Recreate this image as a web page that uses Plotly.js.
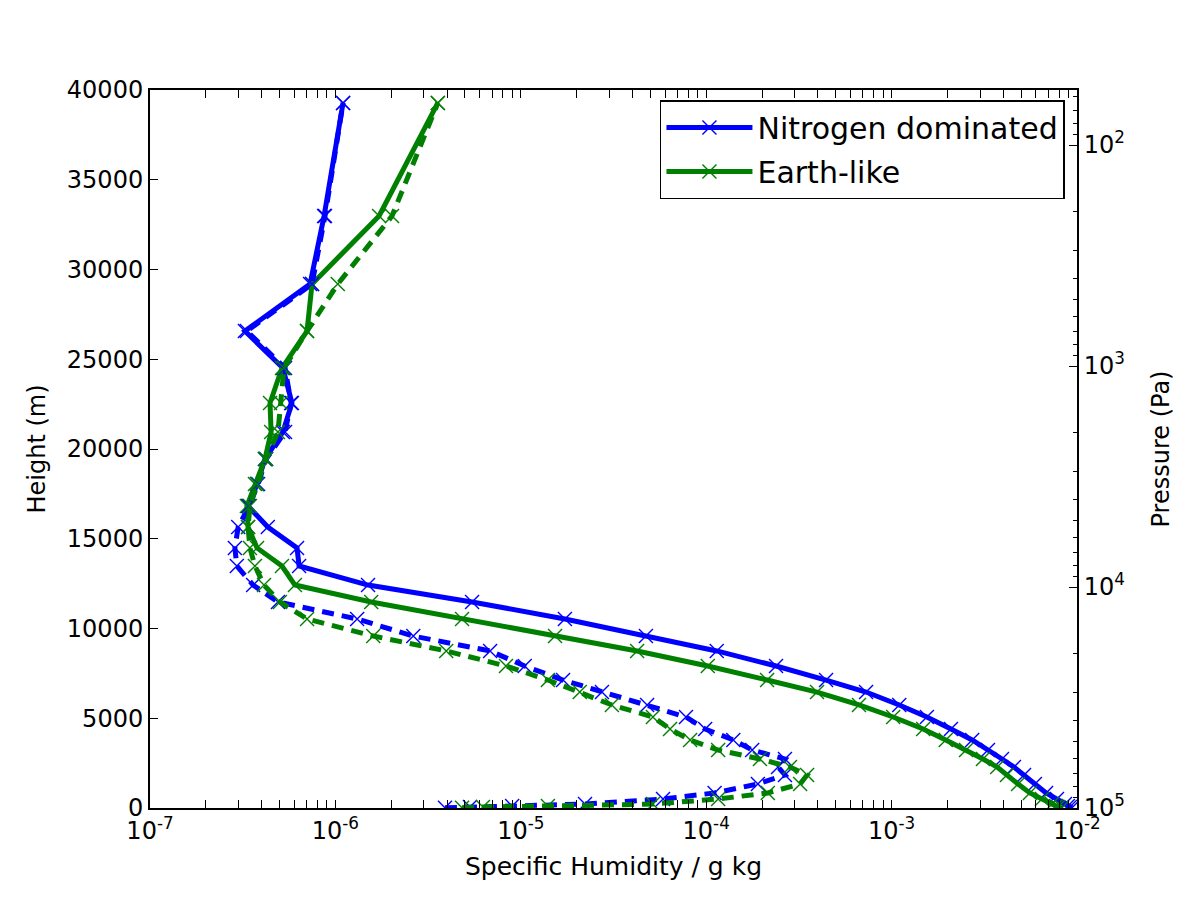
<!DOCTYPE html>
<html>
<head>
<meta charset="utf-8">
<script src="https://cdn.plot.ly/plotly-3.0.1.min.js"></script>
<style>html,body{margin:0;padding:0;background:#fff;}#chart{width:1200px;height:900px;}</style>
</head>
<body>
<div id="chart"></div>
<script>
// Model level heights (m)
const heights = [10, 60, 110, 220, 500, 840, 1340, 1840, 2280, 2730, 3230, 3790, 4400, 5070, 5740, 6460, 7130, 7910, 8750, 9580, 10530, 11480, 12420, 13480, 14490, 15650, 16820, 18050, 19440, 20950, 22560, 24510, 26570, 29190, 32980, 39280];

// Specific humidity (g/kg)
const nitrogenSolid = [9.4e-3, 9.16e-3, 8.93e-3, 8.61e-3, 7.80e-3, 6.81e-3, 5.93e-3, 5.18e-3, 4.57e-3, 3.94e-3, 3.31e-3, 2.72e-3, 2.09e-3, 1.55e-3, 1.10e-3, 7.28e-4, 4.43e-4, 2.38e-4, 1.14e-4, 4.73e-5, 1.73e-5, 5.46e-6, 1.50e-6, 6.37e-7, 6.21e-7, 4.32e-7, 3.38e-7, 3.78e-7, 4.17e-7, 5.21e-7, 5.83e-7, 5.21e-7, 3.25e-7, 7.30e-7, 8.69e-7, 1.10e-6];
const earthSolid = [8.30e-3, 7.91e-3, 7.71e-3, 7.33e-3, 6.47e-3, 5.57e-3, 4.81e-3, 4.19e-3, 3.71e-3, 3.11e-3, 2.52e-3, 1.96e-3, 1.48e-3, 1.02e-3, 6.67e-4, 3.96e-4, 2.13e-4, 1.02e-4, 4.24e-5, 1.53e-5, 4.82e-6, 1.56e-6, 6.05e-7, 5.15e-7, 3.78e-7, 3.38e-7, 3.33e-7, 3.68e-7, 4.17e-7, 4.50e-7, 4.44e-7, 5.15e-7, 7.03e-7, 7.48e-7, 1.72e-6, 3.57e-6];
const nitrogenDashed = [3.90e-6, 5.32e-6, 8.98e-6, 2.22e-5, 5.85e-5, 1.11e-4, 1.90e-4, 2.66e-4, 2.44e-4, 2.66e-4, 1.77e-4, 1.40e-4, 9.87e-5, 7.78e-5, 4.80e-5, 2.74e-5, 1.69e-5, 1.05e-5, 6.83e-6, 2.63e-6, 1.31e-6, 4.90e-7, 3.60e-7, 2.94e-7, 2.87e-7, 2.99e-7, 3.42e-7, 3.83e-7, 4.23e-7, 5.35e-7, 5.77e-7, 5.35e-7, 3.33e-7, 7.48e-7, 8.79e-7, 1.10e-6];
const earthDashed = [4.82e-6, 6.25e-6, 1.40e-5, 5.16e-5, 1.16e-4, 2.15e-4, 3.21e-4, 3.50e-4, 2.83e-4, 1.95e-4, 1.16e-4, 8.19e-5, 6.38e-5, 5.16e-5, 3.10e-5, 2.08e-5, 1.40e-5, 8.32e-6, 3.96e-6, 1.60e-6, 7.03e-7, 5.02e-7, 4.12e-7, 3.68e-7, 3.46e-7, 3.38e-7, 3.46e-7, 3.78e-7, 4.23e-7, 4.90e-7, 5.09e-7, 5.28e-7, 7.03e-7, 1.03e-6, 2.02e-6, 3.57e-6];

const seriesNames = ["Nitrogen dominated", "Earth-like"];

// Tick labels
const xTickVals = [1e-7, 1e-6, 1e-5, 1e-4, 1e-3, 1e-2];
const xTickText = ["10<sup>-7</sup>", "10<sup>-6</sup>", "10<sup>-5</sup>", "10<sup>-4</sup>", "10<sup>-3</sup>", "10<sup>-2</sup>"];
const yTickVals = [0, 5000, 10000, 15000, 20000, 25000, 30000, 35000, 40000];
const yTickText = ["0", "5000", "10000", "15000", "20000", "25000", "30000", "35000", "40000"];
const pTickVals = [1e2, 1e3, 1e4, 1e5];
const pTickText = ["10<sup>2</sup>", "10<sup>3</sup>", "10<sup>4</sup>", "10<sup>5</sup>"];

// minor tick positions (2..9 x each decade)
function minorTicks(e0, e1) {
  const out = [];
  for (let e = e0; e < e1; e++) for (let m = 2; m <= 9; m++) out.push(m * Math.pow(10, e));
  return out;
}
const xMinor = minorTicks(-7, -2);
const pMinor = minorTicks(1, 5);

const BLUE = "#0000ff", GREEN = "#008000";
const FONT = "DejaVu Sans, sans-serif";

function tr(x, color, dash, name, show) {
  return {
    x: x, y: heights, type: "scatter", mode: "lines+markers",
    name: name, showlegend: show, legendgroup: name,
    line: {color: color, width: 5, dash: dash},
    marker: {symbol: "x-thin", size: 14, color: color, line: {color: color, width: 1.4}},
    cliponaxis: true, hoverinfo: "skip"
  };
}

const data = [
  tr(nitrogenSolid, BLUE, "solid", seriesNames[0], true),
  tr(earthSolid, GREEN, "solid", seriesNames[1], true),
  tr(nitrogenDashed, BLUE, "12px,8px", seriesNames[0], false),
  tr(earthDashed, GREEN, "12px,8px", seriesNames[1], false),
  // empty trace so that the pressure axis is drawn
  {x: [], y: [], type: "scatter", mode: "lines", yaxis: "y2", showlegend: false, hoverinfo: "skip"}
];

const layout = {
  width: 1200, height: 900,
  margin: {l: 150, r: 123, t: 90, b: 92},
  paper_bgcolor: "#fff", plot_bgcolor: "#fff",
  font: {family: FONT, size: 24, color: "#000"},
  showlegend: true,
  legend: {
    x: 0.987, y: 0.986, xanchor: "right", yanchor: "top",
    bordercolor: "#000", borderwidth: 1.5, bgcolor: "#fff",
    font: {family: FONT, size: 30, color: "#000"},
    itemwidth: 86, tracegroupgap: 2
  },
  xaxis: {
    type: "log", range: [-7, -2],
    tickmode: "array", tickvals: xTickVals, ticktext: xTickText,
    ticks: "inside", ticklen: 8, tickwidth: 1, tickcolor: "#000",
    minor: {tickmode: "array", tickvals: xMinor, ticks: "inside", ticklen: 4, tickwidth: 1, tickcolor: "#000", showgrid: false},
    showline: true, linecolor: "#000", linewidth: 2, mirror: "allticks",
    showgrid: false, zeroline: false,
    tickfont: {family: FONT, size: 24},
    title: {text: "Specific Humidity / g kg", font: {family: FONT, size: 25}, standoff: 14}
  },
  yaxis: {
    range: [0, 40000],
    tickmode: "array", tickvals: yTickVals, ticktext: yTickText,
    ticks: "inside", ticklen: 8, tickwidth: 1, tickcolor: "#000",
    showline: true, linecolor: "#000", linewidth: 2,
    showgrid: false, zeroline: false,
    tickfont: {family: FONT, size: 24},
    title: {text: "Height (m)", font: {family: FONT, size: 24}, standoff: 14}
  },
  yaxis2: {
    type: "log", range: [5, 1.751], overlaying: "y", side: "right", autorange: false,
    tickmode: "array", tickvals: pTickVals, ticktext: pTickText,
    ticks: "inside", ticklen: 8, tickwidth: 1, tickcolor: "#000",
    minor: {tickmode: "array", tickvals: pMinor, ticks: "inside", ticklen: 4, tickwidth: 1, tickcolor: "#000", showgrid: false},
    showline: true, linecolor: "#000", linewidth: 2,
    showgrid: false, zeroline: false,
    tickfont: {family: FONT, size: 24},
    title: {text: "Pressure (Pa)", font: {family: FONT, size: 24}, standoff: 28}
  }
};

Plotly.newPlot("chart", data, layout, {displayModeBar: false, staticPlot: true});
</script>
</body>
</html>
